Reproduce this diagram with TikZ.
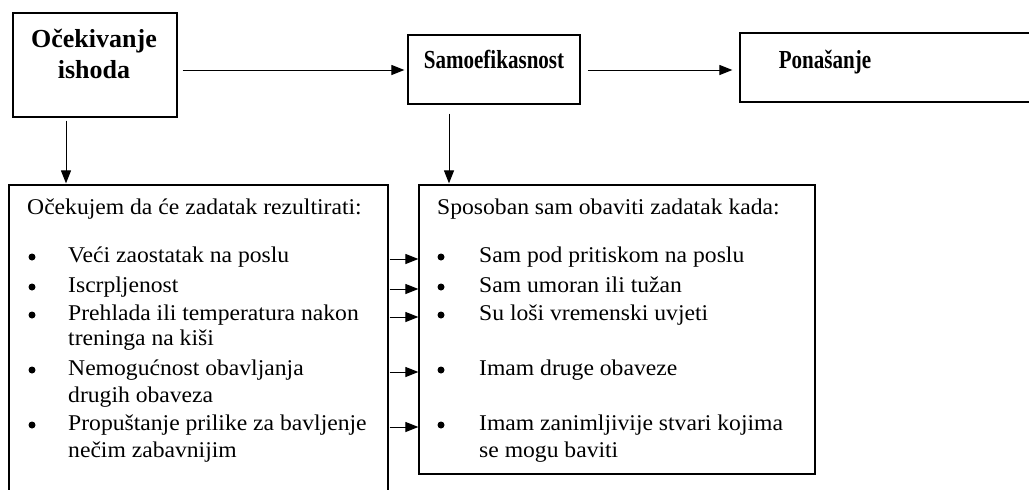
\documentclass[tikz,border=0pt]{standalone}
\usepackage{fontspec}
\setmainfont{Liberation Serif}
\newfontfamily\bodyfont{Liberation Serif}[FakeStretch=1.05]
\newfontfamily\condfont{Liberation Serif}[FakeStretch=0.81]
\usetikzlibrary{arrows.meta}
\begin{document}
\begin{tikzpicture}[x=1pt,y=-1pt,
  box/.style={draw,line width=1.2pt,inner sep=0pt},
  conn/.style={line width=1pt,-{Triangle[length=13pt,width=10pt]}},
  headA/.style={font=\fontsize{26}{32}\selectfont\bfseries,anchor=base,inner sep=0pt},
  head/.style={font=\condfont\fontsize{26}{32}\selectfont\bfseries,anchor=base,inner sep=0pt},
  txt/.style={font=\bodyfont\fontsize{22.5}{27}\selectfont,anchor=base west,inner sep=0pt},
  bul/.style={circle,fill,inner sep=0pt,minimum size=7pt}]
\useasboundingbox (0,0) rectangle (1029,490);
\clip (0,0) rectangle (1029,490);
% top boxes
\node[box,minimum width=164pt,minimum height=104pt] (A) at (95,65) {};
\node[headA] (At) at (94,47) {Očekivanje};
\node[headA] (At2) at (94,78) {ishoda};
\node[box,minimum width=172pt,minimum height=69pt] (B) at (494,69.5) {};
\node[head] (Bt) at (494,68) {Samoefikasnost};
\node[box,minimum width=300pt,minimum height=69pt] (C) at (890,67.5) {};
\node[head] (Ct) at (825,68) {Ponašanje};
% lower boxes
\node[box,minimum width=379pt,minimum height=335pt] (D) at (198.5,352.5) {};
\node[box,minimum width=396pt,minimum height=289pt] (E) at (617,329.5) {};
% left list
\node[txt] (Dh) at (27,214) {Očekujem da će zadatak rezultirati:};
\node[bul] (lb1) at (32,257) {};
\node[bul] (lb2) at (32,287) {};
\node[bul] (lb3) at (32,315) {};
\node[bul] (lb4) at (32,370) {};
\node[bul] (lb5) at (32,425) {};
\node[txt] (l1) at (68,262.5) {Veći zaostatak na poslu};
\node[txt] (l2) at (68,292.5) {Iscrpljenost};
\node[txt] (l3) at (68,320.5) {Prehlada ili temperatura nakon};
\node[txt] (l3b) at (68,345.5) {treninga na kiši};
\node[txt] (l4) at (68,375.5) {Nemogućnost obavljanja};
\node[txt] (l4b) at (68,402.5) {drugih obaveza};
\node[txt] (l5) at (68,430.5) {Propuštanje prilike za bavljenje};
\node[txt] (l5b) at (68,457.5) {nečim zabavnijim};
% right list
\node[txt] (Eh) at (437,214) {Sposoban sam obaviti zadatak kada:};
\node[bul] (rb1) at (441,257) {};
\node[bul] (rb2) at (441,287) {};
\node[bul] (rb3) at (441,315) {};
\node[bul] (rb4) at (441,370) {};
\node[bul] (rb5) at (441,425) {};
\node[txt] (r1) at (479,262.5) {Sam pod pritiskom na poslu};
\node[txt] (r2) at (479,292.5) {Sam umoran ili tužan};
\node[txt] (r3) at (479,320.5) {Su loši vremenski uvjeti};
\node[txt] (r4) at (479,375.5) {Imam druge obaveze};
\node[txt] (r5) at (479,430.5) {Imam zanimljivije stvari kojima};
\node[txt] (r5b) at (479,457.5) {se mogu baviti};
% connectors
\draw[conn] ([shift={(5,5)}]A.east) -- ([shift={(-3,0.5)}]B.west);
\draw[conn] ([shift={(7,0.5)}]B.east) -- ([shift={(-7,2.5)}]C.west);
\draw[conn] ([shift={(-29,3)}]A.south) coordinate (a1) -- ([yshift=1pt]D.north -| a1);
\draw[conn] ([shift={(-45,9)}]B.south) coordinate (b1) -- ([yshift=1pt]E.north -| b1);
\foreach \i in {1,...,5}{
  \draw[conn] ([xshift=1pt,yshift=-2pt]D.east |- rb\i) -- ([yshift=-2pt]E.west |- rb\i);
}
\end{tikzpicture}
\end{document}
